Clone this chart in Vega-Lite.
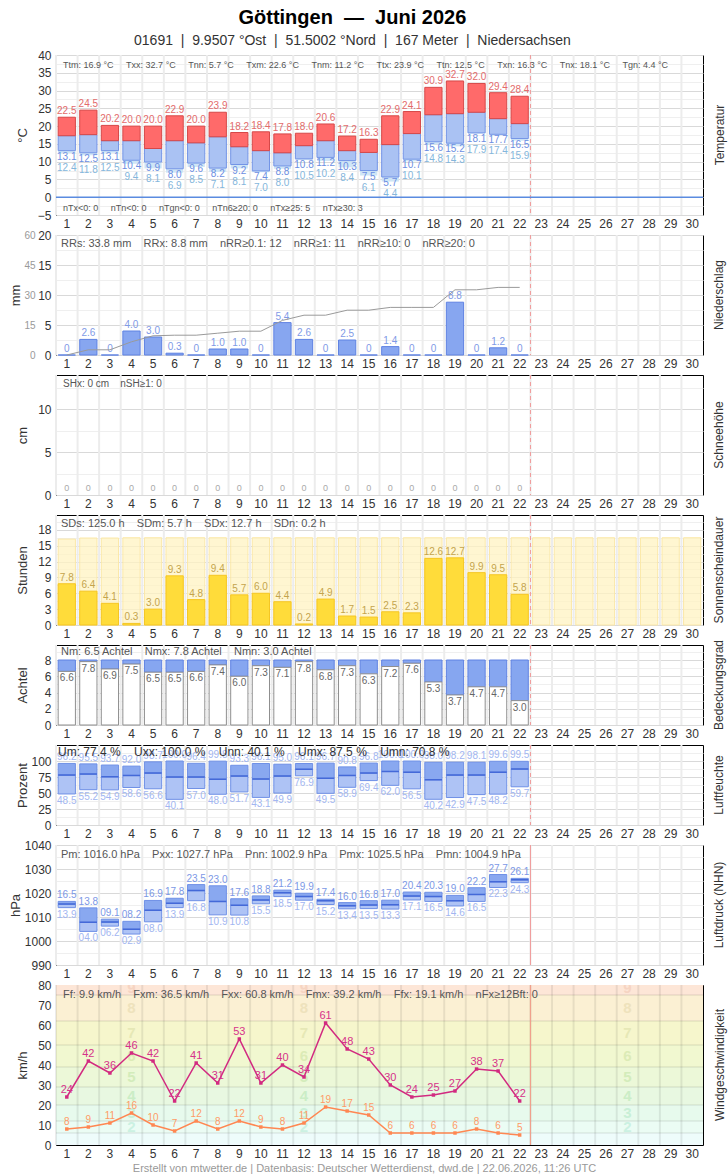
{
  "$schema": "https://vega.github.io/schema/vega-lite/v6.json",
  "background": "white",
  "padding": {"left": 8, "top": 7, "right": 5, "bottom": 5},
  "title": {
    "text": "Göttingen\u00a0 —\u00a0 Juni 2026",
    "subtitle": "01691\u00a0 |\u00a0 9.9507 °Ost\u00a0 |\u00a0 51.5002 °Nord\u00a0 |\u00a0 167 Meter\u00a0 |\u00a0 Niedersachsen",
    "anchor": "middle", "dx": -15, "fontSize": 20, "fontWeight": "bold", "color": "#000",
    "subtitleFontSize": 14, "subtitleColor": "#333", "subtitlePadding": 6, "offset": 1
  },
  "datasets": {
    "days": [{"day":1},{"day":2},{"day":3},{"day":4},{"day":5},{"day":6},{"day":7},{"day":8},{"day":9},{"day":10},{"day":11},{"day":12},{"day":13},{"day":14},{"day":15},{"day":16},{"day":17},{"day":18},{"day":19},{"day":20},{"day":21},{"day":22},{"day":23},{"day":24},{"day":25},{"day":26},{"day":27},{"day":28},{"day":29},{"day":30}],
    "temp": [
      {"day":1,"tx":22.5,"tm":17.3,"tn":13.1,"tgn":12.4},
      {"day":2,"tx":24.5,"tm":17.6,"tn":12.5,"tgn":11.8},
      {"day":3,"tx":20.2,"tm":15.9,"tn":13.1,"tgn":12.5},
      {"day":4,"tx":20.0,"tm":15.9,"tn":10.4,"tgn":9.4},
      {"day":5,"tx":20.0,"tm":13.7,"tn":9.9,"tgn":8.1},
      {"day":6,"tx":22.9,"tm":15.9,"tn":8.0,"tgn":6.9},
      {"day":7,"tx":20.0,"tm":15.3,"tn":9.6,"tgn":8.5},
      {"day":8,"tx":23.9,"tm":17.0,"tn":8.2,"tgn":7.1},
      {"day":9,"tx":18.2,"tm":14.2,"tn":9.2,"tgn":8.1},
      {"day":10,"tx":18.4,"tm":13.1,"tn":7.4,"tgn":7.0},
      {"day":11,"tx":17.8,"tm":12.5,"tn":8.8,"tgn":8.0},
      {"day":12,"tx":18.0,"tm":14.5,"tn":10.8,"tgn":10.5},
      {"day":13,"tx":20.6,"tm":15.9,"tn":11.2,"tgn":10.2},
      {"day":14,"tx":17.2,"tm":13.1,"tn":10.3,"tgn":8.4},
      {"day":15,"tx":16.3,"tm":12.6,"tn":7.5,"tgn":6.1},
      {"day":16,"tx":22.9,"tm":14.8,"tn":5.7,"tgn":4.4},
      {"day":17,"tx":24.1,"tm":17.9,"tn":10.7,"tgn":10.1},
      {"day":18,"tx":30.9,"tm":23.2,"tn":15.6,"tgn":14.8},
      {"day":19,"tx":32.7,"tm":23.5,"tn":15.2,"tgn":14.3},
      {"day":20,"tx":32.0,"tm":23.9,"tn":18.1,"tgn":17.9},
      {"day":21,"tx":29.4,"tm":22.1,"tn":17.7,"tgn":17.4},
      {"day":22,"tx":28.4,"tm":20.7,"tn":16.5,"tgn":15.9}
    ],
    "precip": [
      {"day":1,"rr":0,"cum":0},{"day":2,"rr":2.6,"cum":2.6},{"day":3,"rr":0,"cum":2.6},{"day":4,"rr":4.0,"cum":6.6},
      {"day":5,"rr":3.0,"cum":9.6},{"day":6,"rr":0.3,"cum":9.9},{"day":7,"rr":0,"cum":9.9},{"day":8,"rr":1.0,"cum":10.9},
      {"day":9,"rr":1.0,"cum":11.9},{"day":10,"rr":0,"cum":11.9},{"day":11,"rr":5.4,"cum":17.3},{"day":12,"rr":2.6,"cum":19.9},
      {"day":13,"rr":0,"cum":19.9},{"day":14,"rr":2.5,"cum":22.4},{"day":15,"rr":0,"cum":22.4},{"day":16,"rr":1.4,"cum":23.8},
      {"day":17,"rr":0,"cum":23.8},{"day":18,"rr":0,"cum":23.8},{"day":19,"rr":8.8,"cum":32.6},{"day":20,"rr":0,"cum":32.6},
      {"day":21,"rr":1.2,"cum":33.8},{"day":22,"rr":0,"cum":33.8}
    ],
    "snow": [{"day":1,"sh":0},{"day":2,"sh":0},{"day":3,"sh":0},{"day":4,"sh":0},{"day":5,"sh":0},{"day":6,"sh":0},{"day":7,"sh":0},{"day":8,"sh":0},{"day":9,"sh":0},{"day":10,"sh":0},{"day":11,"sh":0},{"day":12,"sh":0},{"day":13,"sh":0},{"day":14,"sh":0},{"day":15,"sh":0},{"day":16,"sh":0},{"day":17,"sh":0},{"day":18,"sh":0},{"day":19,"sh":0},{"day":20,"sh":0},{"day":21,"sh":0},{"day":22,"sh":0}],
    "sun": [
      {"day":1,"sd":7.8},{"day":2,"sd":6.4},{"day":3,"sd":4.1},{"day":4,"sd":0.3},{"day":5,"sd":3.0},{"day":6,"sd":9.3},
      {"day":7,"sd":4.8},{"day":8,"sd":9.4},{"day":9,"sd":5.7},{"day":10,"sd":6.0},{"day":11,"sd":4.4},{"day":12,"sd":0.2},
      {"day":13,"sd":4.9},{"day":14,"sd":1.7},{"day":15,"sd":1.5},{"day":16,"sd":2.5},{"day":17,"sd":2.3},{"day":18,"sd":12.6},
      {"day":19,"sd":12.7},{"day":20,"sd":9.9},{"day":21,"sd":9.5},{"day":22,"sd":5.8}
    ],
    "daylen": [
      {"day":1,"dl":16.25},{"day":2,"dl":16.45},{"day":3,"dl":16.45},{"day":4,"dl":16.5},{"day":5,"dl":16.5},{"day":6,"dl":16.5},
      {"day":7,"dl":16.5},{"day":8,"dl":16.5},{"day":9,"dl":16.5},{"day":10,"dl":16.5},{"day":11,"dl":16.5},{"day":12,"dl":16.5},
      {"day":13,"dl":16.5},{"day":14,"dl":16.5},{"day":15,"dl":16.5},{"day":16,"dl":16.5},{"day":17,"dl":16.5},{"day":18,"dl":16.5},
      {"day":19,"dl":16.5},{"day":20,"dl":16.5},{"day":21,"dl":16.5},{"day":22,"dl":16.5},{"day":23,"dl":16.5},{"day":24,"dl":16.5},
      {"day":25,"dl":16.5},{"day":26,"dl":16.5},{"day":27,"dl":16.5},{"day":28,"dl":16.5},{"day":29,"dl":16.5},{"day":30,"dl":16.5}
    ],
    "cloud": [
      {"day":1,"n":6.6},{"day":2,"n":7.8},{"day":3,"n":6.9},{"day":4,"n":7.5},{"day":5,"n":6.5},{"day":6,"n":6.5},
      {"day":7,"n":6.6},{"day":8,"n":7.4},{"day":9,"n":6.0},{"day":10,"n":7.3},{"day":11,"n":7.1},{"day":12,"n":7.8},
      {"day":13,"n":6.8},{"day":14,"n":7.3},{"day":15,"n":6.3},{"day":16,"n":7.2},{"day":17,"n":7.6},{"day":18,"n":5.3},
      {"day":19,"n":3.7},{"day":20,"n":4.7},{"day":21,"n":4.7},{"day":22,"n":3.0}
    ],
    "hum": [
      {"day":1,"umax":96.2,"umean":78.0,"umin":48.5},
      {"day":2,"umax":95.5,"umean":79.5,"umin":55.2},
      {"day":3,"umax":93.7,"umean":75.4,"umin":54.9},
      {"day":4,"umax":92.0,"umean":77.5,"umin":58.6},
      {"day":5,"umax":98.7,"umean":81.1,"umin":56.6},
      {"day":6,"umax":100.0,"umean":74.9,"umin":40.1},
      {"day":7,"umax":96.4,"umean":74.9,"umin":57.0},
      {"day":8,"umax":99.8,"umean":71.4,"umin":48.0},
      {"day":9,"umax":93.3,"umean":76.5,"umin":51.7},
      {"day":10,"umax":96.1,"umean":71.9,"umin":43.1},
      {"day":11,"umax":95.0,"umean":76.5,"umin":49.9},
      {"day":12,"umax":96.1,"umean":87.0,"umin":76.9},
      {"day":13,"umax":96.7,"umean":72.9,"umin":49.5},
      {"day":14,"umax":90.8,"umean":77.5,"umin":58.9},
      {"day":15,"umax":96.8,"umean":81.1,"umin":69.4},
      {"day":16,"umax":100.0,"umean":83.6,"umin":62.0},
      {"day":17,"umax":100.0,"umean":82.6,"umin":56.5},
      {"day":18,"umax":98.0,"umean":70.8,"umin":40.2},
      {"day":19,"umax":98.2,"umean":78.0,"umin":42.9},
      {"day":20,"umax":98.1,"umean":78.0,"umin":47.5},
      {"day":21,"umax":99.6,"umean":82.6,"umin":48.2},
      {"day":22,"umax":99.5,"umean":87.5,"umin":59.7}
    ],
    "pres": [
      {"day":1,"pmax":1016.5,"pmean":1015.4,"pmin":1013.9,"maxl":"16.5","minl":"13.9"},
      {"day":2,"pmax":1013.8,"pmean":1007.8,"pmin":1004.0,"maxl":"13.8","minl":"04.0"},
      {"day":3,"pmax":1009.1,"pmean":1007.9,"pmin":1006.2,"maxl":"09.1","minl":"06.2"},
      {"day":4,"pmax":1008.2,"pmean":1004.9,"pmin":1002.9,"maxl":"08.2","minl":"02.9"},
      {"day":5,"pmax":1016.9,"pmean":1012.8,"pmin":1008.0,"maxl":"16.9","minl":"08.0"},
      {"day":6,"pmax":1017.8,"pmean":1015.7,"pmin":1013.9,"maxl":"17.8","minl":"13.9"},
      {"day":7,"pmax":1023.5,"pmean":1021.0,"pmin":1016.8,"maxl":"23.5","minl":"16.8"},
      {"day":8,"pmax":1023.0,"pmean":1016.5,"pmin":1010.9,"maxl":"23.0","minl":"10.9"},
      {"day":9,"pmax":1017.6,"pmean":1014.9,"pmin":1010.8,"maxl":"17.6","minl":"10.8"},
      {"day":10,"pmax":1018.8,"pmean":1017.1,"pmin":1015.5,"maxl":"18.8","minl":"15.5"},
      {"day":11,"pmax":1021.2,"pmean":1020.1,"pmin":1018.5,"maxl":"21.2","minl":"18.5"},
      {"day":12,"pmax":1019.9,"pmean":1018.5,"pmin":1017.0,"maxl":"19.9","minl":"17.0"},
      {"day":13,"pmax":1017.4,"pmean":1016.8,"pmin":1015.2,"maxl":"17.4","minl":"15.2"},
      {"day":14,"pmax":1016.0,"pmean":1014.7,"pmin":1013.4,"maxl":"16.0","minl":"13.4"},
      {"day":15,"pmax":1016.8,"pmean":1015.0,"pmin":1013.5,"maxl":"16.8","minl":"13.5"},
      {"day":16,"pmax":1017.0,"pmean":1015.1,"pmin":1013.3,"maxl":"17.0","minl":"13.3"},
      {"day":17,"pmax":1020.4,"pmean":1018.7,"pmin":1017.1,"maxl":"20.4","minl":"17.1"},
      {"day":18,"pmax":1020.3,"pmean":1018.5,"pmin":1016.5,"maxl":"20.3","minl":"16.5"},
      {"day":19,"pmax":1019.0,"pmean":1016.8,"pmin":1014.6,"maxl":"19.0","minl":"14.6"},
      {"day":20,"pmax":1022.2,"pmean":1019.4,"pmin":1016.5,"maxl":"22.2","minl":"16.5"},
      {"day":21,"pmax":1027.7,"pmean":1024.7,"pmin":1022.3,"maxl":"27.7","minl":"22.3"},
      {"day":22,"pmax":1026.1,"pmean":1025.5,"pmin":1024.3,"maxl":"26.1","minl":"24.3"}
    ],
    "wind": [
      {"day":1,"fx":24,"ff":8},{"day":2,"fx":42,"ff":9},{"day":3,"fx":36,"ff":11},{"day":4,"fx":46,"ff":16},
      {"day":5,"fx":42,"ff":10},{"day":6,"fx":22,"ff":7},{"day":7,"fx":41,"ff":12},{"day":8,"fx":31,"ff":8},
      {"day":9,"fx":53,"ff":12},{"day":10,"fx":31,"ff":9},{"day":11,"fx":40,"ff":8},{"day":12,"fx":34,"ff":11},
      {"day":13,"fx":61,"ff":19},{"day":14,"fx":48,"ff":17},{"day":15,"fx":43,"ff":15},{"day":16,"fx":30,"ff":6},
      {"day":17,"fx":24,"ff":6},{"day":18,"fx":25,"ff":6},{"day":19,"fx":27,"ff":6},{"day":20,"fx":38,"ff":8},
      {"day":21,"fx":37,"ff":6},{"day":22,"fx":22,"ff":5}
    ],
    "bft": [
      {"bft":0,"lo":0,"hi":1,"mid":0.5},{"bft":1,"lo":1,"hi":6,"mid":3.5},{"bft":2,"lo":6,"hi":12,"mid":9},
      {"bft":3,"lo":12,"hi":20,"mid":16},{"bft":4,"lo":20,"hi":29,"mid":24.5},{"bft":5,"lo":29,"hi":39,"mid":34},
      {"bft":6,"lo":39,"hi":50,"mid":44.5},{"bft":7,"lo":50,"hi":62,"mid":56},{"bft":8,"lo":62,"hi":75,"mid":68.5},
      {"bft":9,"lo":75,"hi":89,"mid":78.5}
    ]
  },
  "spacing": 20,
  "bounds": "flush",
  "vconcat": [
    {
      "width": 647, "height": 160,
      "title": {"text": "Temperatur", "orient": "right", "anchor": "middle", "angle": 270, "baseline": "middle", "fontSize": 12, "fontWeight": "normal", "color": "#333", "offset": 4},
      "layer": [
        {"data": {"name": "days"}, "mark": {"type": "rule", "color": "#ececec", "strokeWidth": 2},
         "encoding": {"x": {"field": "day", "type": "ordinal", "bandPosition": 0, "scale": {"domain": [1,2,3,4,5,6,7,8,9,10,11,12,13,14,15,16,17,18,19,20,21,22,23,24,25,26,27,28,29,30], "paddingInner": 0, "paddingOuter": 0}}}},
        {"data": {"values": [{"day": 23}]}, "mark": {"type": "rule", "color": "#f09a9a", "strokeWidth": 1, "strokeDash": [4, 3]},
         "encoding": {"x": {"field": "day", "type": "ordinal", "bandPosition": 0, "scale": {"domain": [1,2,3,4,5,6,7,8,9,10,11,12,13,14,15,16,17,18,19,20,21,22,23,24,25,26,27,28,29,30], "paddingInner": 0, "paddingOuter": 0}}}},
        {"data": {"name": "temp"}, "mark": {"type": "bar", "color": "#cfe5f6", "width": {"band": 0.8}},
         "encoding": {
           "x": {"field": "day", "type": "ordinal", "scale": {"domain": [1,2,3,4,5,6,7,8,9,10,11,12,13,14,15,16,17,18,19,20,21,22,23,24,25,26,27,28,29,30], "paddingInner": 0, "paddingOuter": 0}, "axis": {"title": null, "grid": false}},
           "y": {"field": "tgn", "type": "quantitative", "scale": {"domain": [-5, 40], "nice": false},
                 "axis": {"title": "°C", "format": "d", "tickCount": 100, "values": [-5,-2.5,0,2.5,5,7.5,10,12.5,15,17.5,20,22.5,25,27.5,30,32.5,35,37.5,40],
                          "labelExpr": "datum.value % 5 === 0 ? datum.label : ''",
                          "gridColor": {"condition": {"test": "datum.value % 5 === 0", "value": "#d9d9d9"}, "value": "#efefef"},
                          "titleX": -34, "titleY": 80, "titleAngle": 270, "titleBaseline": "middle", "titleAlign": "center"}},
           "y2": {"field": "tn"}}},
        {"data": {"values": [{}]}, "mark": {"type": "rule", "color": "#5a8be0", "strokeWidth": 1.5},
         "encoding": {"y": {"datum": 0, "type": "quantitative", "scale": {"domain": [-5, 40], "nice": false}}}},
        {"data": {"name": "temp"}, "mark": {"type": "bar", "fill": "#aac2f3", "stroke": "#7394e6", "strokeWidth": 1, "width": {"band": 0.8}},
         "encoding": {
           "x": {"field": "day", "type": "ordinal", "scale": {"domain": [1,2,3,4,5,6,7,8,9,10,11,12,13,14,15,16,17,18,19,20,21,22,23,24,25,26,27,28,29,30], "paddingInner": 0, "paddingOuter": 0}},
           "y": {"field": "tn", "type": "quantitative", "scale": {"domain": [-5, 40], "nice": false}},
           "y2": {"field": "tm"}}},
        {"data": {"name": "temp"}, "mark": {"type": "bar", "fill": "#ff6a6a", "stroke": "#d64848", "strokeWidth": 1, "width": {"band": 0.8}},
         "encoding": {
           "x": {"field": "day", "type": "ordinal", "scale": {"domain": [1,2,3,4,5,6,7,8,9,10,11,12,13,14,15,16,17,18,19,20,21,22,23,24,25,26,27,28,29,30], "paddingInner": 0, "paddingOuter": 0}},
           "y": {"field": "tm", "type": "quantitative", "scale": {"domain": [-5, 40], "nice": false}},
           "y2": {"field": "tx"}}},
        {"data": {"name": "temp"}, "mark": {"type": "text", "baseline": "bottom", "dy": -1, "fontSize": 10, "color": "#e36b6b"},
         "encoding": {
           "x": {"field": "day", "type": "ordinal", "scale": {"domain": [1,2,3,4,5,6,7,8,9,10,11,12,13,14,15,16,17,18,19,20,21,22,23,24,25,26,27,28,29,30], "paddingInner": 0, "paddingOuter": 0}},
           "y": {"field": "tx", "type": "quantitative", "scale": {"domain": [-5, 40], "nice": false}},
           "text": {"field": "tx", "format": ".1f"}}},
        {"data": {"name": "temp"}, "mark": {"type": "text", "baseline": "top", "dy": 1, "fontSize": 10, "color": "#6c8ee2"},
         "encoding": {
           "x": {"field": "day", "type": "ordinal", "scale": {"domain": [1,2,3,4,5,6,7,8,9,10,11,12,13,14,15,16,17,18,19,20,21,22,23,24,25,26,27,28,29,30], "paddingInner": 0, "paddingOuter": 0}},
           "y": {"field": "tn", "type": "quantitative", "scale": {"domain": [-5, 40], "nice": false}},
           "text": {"field": "tn", "format": ".1f"}}},
        {"data": {"name": "temp"}, "mark": {"type": "text", "baseline": "top", "dy": 12, "fontSize": 10, "color": "#84b6dc"},
         "encoding": {
           "x": {"field": "day", "type": "ordinal", "scale": {"domain": [1,2,3,4,5,6,7,8,9,10,11,12,13,14,15,16,17,18,19,20,21,22,23,24,25,26,27,28,29,30], "paddingInner": 0, "paddingOuter": 0}},
           "y": {"field": "tn", "type": "quantitative", "scale": {"domain": [-5, 40], "nice": false}},
           "text": {"field": "tgn", "format": ".1f"}}},
        {"data": {"values": [{"day": 1, "t": "Ttm: 16.9 °C\u00a0\u00a0\u00a0\u00a0\u00a0Txx: 32.7 °C\u00a0\u00a0\u00a0\u00a0\u00a0Tnn: 5.7 °C\u00a0\u00a0\u00a0\u00a0\u00a0Txm: 22.6 °C\u00a0\u00a0\u00a0\u00a0\u00a0Tnm: 11.2 °C\u00a0\u00a0\u00a0\u00a0\u00a0Ttx: 23.9 °C\u00a0\u00a0\u00a0\u00a0\u00a0Ttn: 12.5 °C\u00a0\u00a0\u00a0\u00a0\u00a0Txn: 16.3 °C\u00a0\u00a0\u00a0\u00a0\u00a0Tnx: 18.1 °C\u00a0\u00a0\u00a0\u00a0\u00a0Tgn: 4.4 °C"}]},
         "mark": {"type": "text", "align": "left", "baseline": "middle", "dx": 7, "fontSize": 9, "color": "#555"},
         "encoding": {
           "x": {"field": "day", "type": "ordinal", "bandPosition": 0, "scale": {"domain": [1,2,3,4,5,6,7,8,9,10,11,12,13,14,15,16,17,18,19,20,21,22,23,24,25,26,27,28,29,30], "paddingInner": 0, "paddingOuter": 0}},
           "y": {"datum": 37.2, "type": "quantitative", "scale": {"domain": [-5, 40], "nice": false}},
           "text": {"field": "t"}}},
        {"data": {"values": [{"day": 1, "t": "nTx<0: 0\u00a0\u00a0\u00a0\u00a0\u00a0nTn<0: 0\u00a0\u00a0\u00a0\u00a0\u00a0nTgn<0: 0\u00a0\u00a0\u00a0\u00a0\u00a0nTn6≥20: 0\u00a0\u00a0\u00a0\u00a0\u00a0nTx≥25: 5\u00a0\u00a0\u00a0\u00a0\u00a0nTx≥30: 3"}]},
         "mark": {"type": "text", "align": "left", "baseline": "middle", "dx": 7, "fontSize": 9, "color": "#555"},
         "encoding": {
           "x": {"field": "day", "type": "ordinal", "bandPosition": 0, "scale": {"domain": [1,2,3,4,5,6,7,8,9,10,11,12,13,14,15,16,17,18,19,20,21,22,23,24,25,26,27,28,29,30], "paddingInner": 0, "paddingOuter": 0}},
           "y": {"datum": -3.1, "type": "quantitative", "scale": {"domain": [-5, 40], "nice": false}},
           "text": {"field": "t"}}}
      ]
    },
    {
      "width": 647, "height": 120,
      "title": {"text": "Niederschlag", "orient": "right", "anchor": "middle", "angle": 270, "baseline": "middle", "fontSize": 12, "fontWeight": "normal", "color": "#333", "offset": 4},
      "layer": [
        {"layer": [
          {"data": {"name": "days"}, "mark": {"type": "rule", "color": "#ececec", "strokeWidth": 2},
           "encoding": {"x": {"field": "day", "type": "ordinal", "bandPosition": 0, "scale": {"domain": [1,2,3,4,5,6,7,8,9,10,11,12,13,14,15,16,17,18,19,20,21,22,23,24,25,26,27,28,29,30], "paddingInner": 0, "paddingOuter": 0}}}},
          {"data": {"values": [{"day": 23}]}, "mark": {"type": "rule", "color": "#f09a9a", "strokeWidth": 1, "strokeDash": [4, 3]},
           "encoding": {"x": {"field": "day", "type": "ordinal", "bandPosition": 0, "scale": {"domain": [1,2,3,4,5,6,7,8,9,10,11,12,13,14,15,16,17,18,19,20,21,22,23,24,25,26,27,28,29,30], "paddingInner": 0, "paddingOuter": 0}}}},
          {"data": {"name": "precip"}, "mark": {"type": "bar", "fill": "#87a6f0", "stroke": "#5f82e2", "strokeWidth": 1, "width": {"band": 0.8}},
           "encoding": {
             "x": {"field": "day", "type": "ordinal", "scale": {"domain": [1,2,3,4,5,6,7,8,9,10,11,12,13,14,15,16,17,18,19,20,21,22,23,24,25,26,27,28,29,30], "paddingInner": 0, "paddingOuter": 0}, "axis": {"title": null, "grid": false}},
             "y": {"field": "rr", "type": "quantitative", "scale": {"domain": [0, 20], "nice": false},
                   "axis": {"title": "mm", "format": "d", "tickCount": 100, "values": [0,2.5,5,7.5,10,12.5,15,17.5,20],
                            "labelExpr": "datum.value % 5 === 0 ? datum.label : ''",
                            "gridColor": {"condition": {"test": "datum.value % 5 === 0", "value": "#d9d9d9"}, "value": "#efefef"},
                            "titleX": -41, "titleY": 60, "titleAngle": 270, "titleBaseline": "middle", "titleAlign": "center"}}}},
          {"data": {"name": "precip"}, "mark": {"type": "text", "baseline": "bottom", "dy": -1, "fontSize": 10, "color": "#7f9ae6"},
           "encoding": {
             "x": {"field": "day", "type": "ordinal", "scale": {"domain": [1,2,3,4,5,6,7,8,9,10,11,12,13,14,15,16,17,18,19,20,21,22,23,24,25,26,27,28,29,30], "paddingInner": 0, "paddingOuter": 0}},
             "y": {"field": "rr", "type": "quantitative", "scale": {"domain": [0, 20], "nice": false}},
             "text": {"condition": {"test": "datum.rr === 0", "value": "0"}, "field": "rr", "format": ".1f"}}},
          {"data": {"values": [{"day": 1, "t": "RRs: 33.8 mm\u00a0\u00a0\u00a0\u00a0RRx: 8.8 mm\u00a0\u00a0\u00a0\u00a0nRR≥0.1: 12\u00a0\u00a0\u00a0\u00a0nRR≥1: 11\u00a0\u00a0\u00a0\u00a0nRR≥10: 0\u00a0\u00a0\u00a0\u00a0nRR≥20: 0"}]},
           "mark": {"type": "text", "align": "left", "baseline": "middle", "dx": 5, "fontSize": 11, "color": "#555"},
           "encoding": {
             "x": {"field": "day", "type": "ordinal", "bandPosition": 0, "scale": {"domain": [1,2,3,4,5,6,7,8,9,10,11,12,13,14,15,16,17,18,19,20,21,22,23,24,25,26,27,28,29,30], "paddingInner": 0, "paddingOuter": 0}},
             "y": {"datum": 18.5, "type": "quantitative", "scale": {"domain": [0, 20], "nice": false}},
             "text": {"field": "t"}}}
        ]},
        {"data": {"name": "precip"}, "mark": {"type": "line", "color": "#9a9a9a", "strokeWidth": 1},
         "encoding": {
           "x": {"field": "day", "type": "ordinal", "scale": {"domain": [1,2,3,4,5,6,7,8,9,10,11,12,13,14,15,16,17,18,19,20,21,22,23,24,25,26,27,28,29,30], "paddingInner": 0, "paddingOuter": 0}},
           "y": {"field": "cum", "type": "quantitative", "scale": {"domain": [0, 60], "nice": false},
                 "axis": {"orient": "left", "format": "d", "tickCount": 100, "values": [0,15,30,45,60], "title": null, "grid": false, "labelColor": "#999", "labelFontSize": 10, "offset": 17, "labelPadding": 4}}}}
      ],
      "resolve": {"scale": {"y": "independent"}, "axis": {"y": "independent"}}
    },
    {
      "width": 647, "height": 120,
      "title": {"text": "Schneehöhe", "orient": "right", "anchor": "middle", "angle": 270, "baseline": "middle", "fontSize": 12, "fontWeight": "normal", "color": "#333", "offset": 4},
      "layer": [
        {"data": {"name": "days"}, "mark": {"type": "rule", "color": "#ececec", "strokeWidth": 2},
         "encoding": {"x": {"field": "day", "type": "ordinal", "bandPosition": 0, "scale": {"domain": [1,2,3,4,5,6,7,8,9,10,11,12,13,14,15,16,17,18,19,20,21,22,23,24,25,26,27,28,29,30], "paddingInner": 0, "paddingOuter": 0}}}},
        {"data": {"values": [{"day": 23}]}, "mark": {"type": "rule", "color": "#f09a9a", "strokeWidth": 1, "strokeDash": [4, 3]},
         "encoding": {"x": {"field": "day", "type": "ordinal", "bandPosition": 0, "scale": {"domain": [1,2,3,4,5,6,7,8,9,10,11,12,13,14,15,16,17,18,19,20,21,22,23,24,25,26,27,28,29,30], "paddingInner": 0, "paddingOuter": 0}}}},
        {"data": {"name": "snow"}, "mark": {"type": "text", "baseline": "bottom", "dy": -2, "fontSize": 9, "color": "#aaa"},
         "encoding": {
           "x": {"field": "day", "type": "ordinal", "scale": {"domain": [1,2,3,4,5,6,7,8,9,10,11,12,13,14,15,16,17,18,19,20,21,22,23,24,25,26,27,28,29,30], "paddingInner": 0, "paddingOuter": 0}, "axis": {"title": null, "grid": false}},
           "y": {"field": "sh", "type": "quantitative", "scale": {"domain": [0, 14], "nice": false},
                 "axis": {"title": "cm", "format": "d", "tickCount": 100, "values": [0,2.5,5,7.5,10,12.5],
                          "labelExpr": "datum.value % 5 === 0 ? datum.label : ''",
                          "gridColor": {"condition": {"test": "datum.value % 5 === 0", "value": "#d9d9d9"}, "value": "#efefef"},
                          "titleX": -34, "titleY": 60, "titleAngle": 270, "titleBaseline": "middle", "titleAlign": "center"}},
           "text": {"field": "sh", "format": "d"}}},
        {"data": {"values": [{"day": 1, "t": "SHx: 0 cm\u00a0\u00a0\u00a0\u00a0nSH≥1: 0"}]},
         "mark": {"type": "text", "align": "left", "baseline": "middle", "dx": 7, "fontSize": 10, "color": "#555"},
         "encoding": {
           "x": {"field": "day", "type": "ordinal", "bandPosition": 0, "scale": {"domain": [1,2,3,4,5,6,7,8,9,10,11,12,13,14,15,16,17,18,19,20,21,22,23,24,25,26,27,28,29,30], "paddingInner": 0, "paddingOuter": 0}},
           "y": {"datum": 12.95, "type": "quantitative", "scale": {"domain": [0, 14], "nice": false}},
           "text": {"field": "t"}}}
      ]
    },
    {
      "width": 647, "height": 110,
      "title": {"text": "Sonnenscheindauer", "orient": "right", "anchor": "middle", "angle": 270, "baseline": "middle", "fontSize": 12, "fontWeight": "normal", "color": "#333", "offset": 4},
      "layer": [
        {"data": {"name": "days"}, "mark": {"type": "rule", "color": "#ececec", "strokeWidth": 2},
         "encoding": {"x": {"field": "day", "type": "ordinal", "bandPosition": 0, "scale": {"domain": [1,2,3,4,5,6,7,8,9,10,11,12,13,14,15,16,17,18,19,20,21,22,23,24,25,26,27,28,29,30], "paddingInner": 0, "paddingOuter": 0}}}},
        {"data": {"name": "daylen"}, "mark": {"type": "bar", "fill": "#fff3c2", "fillOpacity": 0.75, "stroke": "#fbe8a8", "strokeWidth": 1, "width": {"band": 0.8}},
         "encoding": {
           "x": {"field": "day", "type": "ordinal", "scale": {"domain": [1,2,3,4,5,6,7,8,9,10,11,12,13,14,15,16,17,18,19,20,21,22,23,24,25,26,27,28,29,30], "paddingInner": 0, "paddingOuter": 0}, "axis": {"title": null, "grid": false}},
           "y": {"field": "dl", "type": "quantitative", "scale": {"domain": [0, 20.8], "nice": false},
                 "axis": {"title": "Stunden", "format": "d", "tickCount": 100, "values": [0,1.5,3,4.5,6,7.5,9,10.5,12,13.5,15,16.5,18,19.5],
                          "labelExpr": "datum.value % 3 === 0 ? datum.label : ''",
                          "gridColor": {"condition": {"test": "datum.value % 3 === 0", "value": "#d9d9d9"}, "value": "#efefef"},
                          "titleX": -34, "titleY": 55, "titleAngle": 270, "titleBaseline": "middle", "titleAlign": "center"}}}},
        {"data": {"values": [{"day": 23}]}, "mark": {"type": "rule", "color": "#f09a9a", "strokeWidth": 1, "strokeDash": [4, 3]},
         "encoding": {"x": {"field": "day", "type": "ordinal", "bandPosition": 0, "scale": {"domain": [1,2,3,4,5,6,7,8,9,10,11,12,13,14,15,16,17,18,19,20,21,22,23,24,25,26,27,28,29,30], "paddingInner": 0, "paddingOuter": 0}}}},
        {"data": {"name": "sun"}, "mark": {"type": "bar", "fill": "#ffdc3a", "stroke": "#f5c623", "strokeWidth": 1, "width": {"band": 0.8}},
         "encoding": {
           "x": {"field": "day", "type": "ordinal", "scale": {"domain": [1,2,3,4,5,6,7,8,9,10,11,12,13,14,15,16,17,18,19,20,21,22,23,24,25,26,27,28,29,30], "paddingInner": 0, "paddingOuter": 0}},
           "y": {"field": "sd", "type": "quantitative", "scale": {"domain": [0, 20.8], "nice": false}}}},
        {"data": {"name": "sun"}, "mark": {"type": "text", "baseline": "bottom", "dy": -1, "fontSize": 10, "color": "#c4a44c"},
         "encoding": {
           "x": {"field": "day", "type": "ordinal", "scale": {"domain": [1,2,3,4,5,6,7,8,9,10,11,12,13,14,15,16,17,18,19,20,21,22,23,24,25,26,27,28,29,30], "paddingInner": 0, "paddingOuter": 0}},
           "y": {"field": "sd", "type": "quantitative", "scale": {"domain": [0, 20.8], "nice": false}},
           "text": {"field": "sd", "format": ".1f"}}},
        {"data": {"values": [{"day": 1, "t": "SDs: 125.0 h\u00a0\u00a0\u00a0\u00a0SDm: 5.7 h\u00a0\u00a0\u00a0\u00a0SDx: 12.7 h\u00a0\u00a0\u00a0\u00a0SDn: 0.2 h"}]},
         "mark": {"type": "text", "align": "left", "baseline": "middle", "dx": 5, "fontSize": 11, "color": "#555"},
         "encoding": {
           "x": {"field": "day", "type": "ordinal", "bandPosition": 0, "scale": {"domain": [1,2,3,4,5,6,7,8,9,10,11,12,13,14,15,16,17,18,19,20,21,22,23,24,25,26,27,28,29,30], "paddingInner": 0, "paddingOuter": 0}},
           "y": {"datum": 19.1, "type": "quantitative", "scale": {"domain": [0, 20.8], "nice": false}},
           "text": {"field": "t"}}}
      ]
    },
    {
      "width": 647, "height": 80,
      "title": {"text": "Bedeckungsgrad", "orient": "right", "anchor": "middle", "angle": 270, "baseline": "middle", "fontSize": 12, "fontWeight": "normal", "color": "#333", "offset": 4},
      "layer": [
        {"data": {"name": "days"}, "mark": {"type": "rule", "color": "#ececec", "strokeWidth": 2},
         "encoding": {"x": {"field": "day", "type": "ordinal", "bandPosition": 0, "scale": {"domain": [1,2,3,4,5,6,7,8,9,10,11,12,13,14,15,16,17,18,19,20,21,22,23,24,25,26,27,28,29,30], "paddingInner": 0, "paddingOuter": 0}}}},
        {"data": {"values": [{"day": 23}]}, "mark": {"type": "rule", "color": "#f09a9a", "strokeWidth": 1, "strokeDash": [4, 3]},
         "encoding": {"x": {"field": "day", "type": "ordinal", "bandPosition": 0, "scale": {"domain": [1,2,3,4,5,6,7,8,9,10,11,12,13,14,15,16,17,18,19,20,21,22,23,24,25,26,27,28,29,30], "paddingInner": 0, "paddingOuter": 0}}}},
        {"data": {"name": "cloud"}, "mark": {"type": "bar", "fill": "#86a6f0", "stroke": "#5f82e2", "strokeWidth": 1, "width": {"band": 0.8}},
         "encoding": {
           "x": {"field": "day", "type": "ordinal", "scale": {"domain": [1,2,3,4,5,6,7,8,9,10,11,12,13,14,15,16,17,18,19,20,21,22,23,24,25,26,27,28,29,30], "paddingInner": 0, "paddingOuter": 0}, "axis": {"title": null, "grid": false}},
           "y": {"field": "n", "type": "quantitative", "scale": {"domain": [0, 9.85], "nice": false},
                 "axis": {"title": "Achtel", "format": "d", "tickCount": 100, "values": [0,1,2,3,4,5,6,7,8,9],
                          "labelExpr": "datum.value % 2 === 0 ? datum.label : ''",
                          "gridColor": {"condition": {"test": "datum.value % 2 === 0", "value": "#d9d9d9"}, "value": "#efefef"},
                          "titleX": -34, "titleY": 40, "titleAngle": 270, "titleBaseline": "middle", "titleAlign": "center"}},
           "y2": {"datum": 8}}},
        {"data": {"name": "cloud"}, "mark": {"type": "bar", "fill": "#ffffff", "stroke": "#8f8f8f", "strokeWidth": 1, "width": {"band": 0.8}},
         "encoding": {
           "x": {"field": "day", "type": "ordinal", "scale": {"domain": [1,2,3,4,5,6,7,8,9,10,11,12,13,14,15,16,17,18,19,20,21,22,23,24,25,26,27,28,29,30], "paddingInner": 0, "paddingOuter": 0}},
           "y": {"field": "n", "type": "quantitative", "scale": {"domain": [0, 9.85], "nice": false}},
           "y2": {"datum": 0}}},
        {"data": {"name": "cloud"}, "mark": {"type": "text", "baseline": "top", "dy": 2, "fontSize": 10, "color": "#666"},
         "encoding": {
           "x": {"field": "day", "type": "ordinal", "scale": {"domain": [1,2,3,4,5,6,7,8,9,10,11,12,13,14,15,16,17,18,19,20,21,22,23,24,25,26,27,28,29,30], "paddingInner": 0, "paddingOuter": 0}},
           "y": {"field": "n", "type": "quantitative", "scale": {"domain": [0, 9.85], "nice": false}},
           "text": {"field": "n", "format": ".1f"}}},
        {"data": {"values": [{"day": 1, "t": "Nm: 6.5 Achtel\u00a0\u00a0\u00a0\u00a0Nmx: 7.8 Achtel\u00a0\u00a0\u00a0\u00a0Nmn: 3.0 Achtel"}]},
         "mark": {"type": "text", "align": "left", "baseline": "middle", "dx": 5, "fontSize": 11, "color": "#555"},
         "encoding": {
           "x": {"field": "day", "type": "ordinal", "bandPosition": 0, "scale": {"domain": [1,2,3,4,5,6,7,8,9,10,11,12,13,14,15,16,17,18,19,20,21,22,23,24,25,26,27,28,29,30], "paddingInner": 0, "paddingOuter": 0}},
           "y": {"datum": 9.0, "type": "quantitative", "scale": {"domain": [0, 9.85], "nice": false}},
           "text": {"field": "t"}}}
      ]
    },
    {
      "width": 647, "height": 80,
      "title": {"text": "Luftfeuchte", "orient": "right", "anchor": "middle", "angle": 270, "baseline": "middle", "fontSize": 12, "fontWeight": "normal", "color": "#333", "offset": 4},
      "layer": [
        {"data": {"name": "days"}, "mark": {"type": "rule", "color": "#ececec", "strokeWidth": 2},
         "encoding": {"x": {"field": "day", "type": "ordinal", "bandPosition": 0, "scale": {"domain": [1,2,3,4,5,6,7,8,9,10,11,12,13,14,15,16,17,18,19,20,21,22,23,24,25,26,27,28,29,30], "paddingInner": 0, "paddingOuter": 0}}}},
        {"data": {"values": [{"day": 23}]}, "mark": {"type": "rule", "color": "#f09a9a", "strokeWidth": 1, "strokeDash": [4, 3]},
         "encoding": {"x": {"field": "day", "type": "ordinal", "bandPosition": 0, "scale": {"domain": [1,2,3,4,5,6,7,8,9,10,11,12,13,14,15,16,17,18,19,20,21,22,23,24,25,26,27,28,29,30], "paddingInner": 0, "paddingOuter": 0}}}},
        {"data": {"name": "hum"}, "mark": {"type": "bar", "fill": "#aec3f5", "stroke": "#6f90e6", "strokeWidth": 1, "width": {"band": 0.8}},
         "encoding": {
           "x": {"field": "day", "type": "ordinal", "scale": {"domain": [1,2,3,4,5,6,7,8,9,10,11,12,13,14,15,16,17,18,19,20,21,22,23,24,25,26,27,28,29,30], "paddingInner": 0, "paddingOuter": 0}, "axis": {"title": null, "grid": false}},
           "y": {"field": "umin", "type": "quantitative", "scale": {"domain": [0, 125], "nice": false},
                 "axis": {"title": "Prozent", "format": "d", "tickCount": 100, "values": [0,12.5,25,37.5,50,62.5,75,87.5,100,112.5],
                          "labelExpr": "datum.value % 25 === 0 ? datum.label : ''",
                          "gridColor": {"condition": {"test": "datum.value % 25 === 0", "value": "#d9d9d9"}, "value": "#efefef"},
                          "titleX": -34, "titleY": 40, "titleAngle": 270, "titleBaseline": "middle", "titleAlign": "center"}},
           "y2": {"field": "umean"}}},
        {"data": {"name": "hum"}, "mark": {"type": "bar", "fill": "#89a8f0", "stroke": "#6f90e6", "strokeWidth": 1, "width": {"band": 0.8}},
         "encoding": {
           "x": {"field": "day", "type": "ordinal", "scale": {"domain": [1,2,3,4,5,6,7,8,9,10,11,12,13,14,15,16,17,18,19,20,21,22,23,24,25,26,27,28,29,30], "paddingInner": 0, "paddingOuter": 0}},
           "y": {"field": "umean", "type": "quantitative", "scale": {"domain": [0, 125], "nice": false}},
           "y2": {"field": "umax"}}},
        {"data": {"name": "hum"}, "mark": {"type": "bar", "fill": "#4469d8", "stroke": "#4469d8", "strokeWidth": 1.5, "width": {"band": 0.8}},
         "encoding": {
           "x": {"field": "day", "type": "ordinal", "scale": {"domain": [1,2,3,4,5,6,7,8,9,10,11,12,13,14,15,16,17,18,19,20,21,22,23,24,25,26,27,28,29,30], "paddingInner": 0, "paddingOuter": 0}},
           "y": {"field": "umean", "type": "quantitative", "scale": {"domain": [0, 125], "nice": false}},
           "y2": {"field": "umean"}}},
        {"data": {"name": "hum"}, "mark": {"type": "text", "baseline": "bottom", "dy": -1, "fontSize": 10, "color": "#a2b6f1"},
         "encoding": {
           "x": {"field": "day", "type": "ordinal", "scale": {"domain": [1,2,3,4,5,6,7,8,9,10,11,12,13,14,15,16,17,18,19,20,21,22,23,24,25,26,27,28,29,30], "paddingInner": 0, "paddingOuter": 0}},
           "y": {"field": "umax", "type": "quantitative", "scale": {"domain": [0, 125], "nice": false}},
           "text": {"field": "umax", "format": ".1f"}}},
        {"data": {"name": "hum"}, "mark": {"type": "text", "baseline": "top", "dy": 2, "fontSize": 10, "color": "#a2b6f1"},
         "encoding": {
           "x": {"field": "day", "type": "ordinal", "scale": {"domain": [1,2,3,4,5,6,7,8,9,10,11,12,13,14,15,16,17,18,19,20,21,22,23,24,25,26,27,28,29,30], "paddingInner": 0, "paddingOuter": 0}},
           "y": {"field": "umin", "type": "quantitative", "scale": {"domain": [0, 125], "nice": false}},
           "text": {"field": "umin", "format": ".1f"}}},
        {"data": {"values": [{"day": 1, "t": "Um: 77.4 %\u00a0\u00a0\u00a0\u00a0Uxx: 100.0 %\u00a0\u00a0\u00a0\u00a0Unn: 40.1 %\u00a0\u00a0\u00a0\u00a0Umx: 87.5 %\u00a0\u00a0\u00a0\u00a0Umn: 70.8 %"}]},
         "mark": {"type": "text", "align": "left", "baseline": "middle", "dx": 2, "fontSize": 12, "color": "#333"},
         "encoding": {
           "x": {"field": "day", "type": "ordinal", "bandPosition": 0, "scale": {"domain": [1,2,3,4,5,6,7,8,9,10,11,12,13,14,15,16,17,18,19,20,21,22,23,24,25,26,27,28,29,30], "paddingInner": 0, "paddingOuter": 0}},
           "y": {"datum": 114, "type": "quantitative", "scale": {"domain": [0, 125], "nice": false}},
           "text": {"field": "t"}}}
      ]
    },
    {
      "width": 647, "height": 120,
      "title": {"text": "Luftdruck (NHN)", "orient": "right", "anchor": "middle", "angle": 270, "baseline": "middle", "fontSize": 12, "fontWeight": "normal", "color": "#333", "offset": 4},
      "layer": [
        {"data": {"name": "days"}, "mark": {"type": "rule", "color": "#ececec", "strokeWidth": 2},
         "encoding": {"x": {"field": "day", "type": "ordinal", "bandPosition": 0, "scale": {"domain": [1,2,3,4,5,6,7,8,9,10,11,12,13,14,15,16,17,18,19,20,21,22,23,24,25,26,27,28,29,30], "paddingInner": 0, "paddingOuter": 0}}}},
        {"data": {"values": [{"day": 23}]}, "mark": {"type": "rule", "color": "#f09a9a", "strokeWidth": 1},
         "encoding": {"x": {"field": "day", "type": "ordinal", "bandPosition": 0, "scale": {"domain": [1,2,3,4,5,6,7,8,9,10,11,12,13,14,15,16,17,18,19,20,21,22,23,24,25,26,27,28,29,30], "paddingInner": 0, "paddingOuter": 0}}}},
        {"data": {"name": "pres"}, "mark": {"type": "bar", "fill": "#aec3f5", "stroke": "#6f90e6", "strokeWidth": 1, "width": {"band": 0.8}},
         "encoding": {
           "x": {"field": "day", "type": "ordinal", "scale": {"domain": [1,2,3,4,5,6,7,8,9,10,11,12,13,14,15,16,17,18,19,20,21,22,23,24,25,26,27,28,29,30], "paddingInner": 0, "paddingOuter": 0}, "axis": {"title": null, "grid": false}},
           "y": {"field": "pmin", "type": "quantitative", "scale": {"domain": [990, 1040], "nice": false, "zero": false},
                 "axis": {"title": "hPa", "format": "d", "tickCount": 100, "values": [990,995,1000,1005,1010,1015,1020,1025,1030,1035,1040],
                          "labelExpr": "datum.value % 10 === 0 ? datum.label : ''",
                          "gridColor": {"condition": {"test": "datum.value % 10 === 0", "value": "#d9d9d9"}, "value": "#efefef"},
                          "titleX": -41, "titleY": 60, "titleAngle": 270, "titleBaseline": "middle", "titleAlign": "center"}},
           "y2": {"field": "pmean"}}},
        {"data": {"name": "pres"}, "mark": {"type": "bar", "fill": "#89a8f0", "stroke": "#6f90e6", "strokeWidth": 1, "width": {"band": 0.8}},
         "encoding": {
           "x": {"field": "day", "type": "ordinal", "scale": {"domain": [1,2,3,4,5,6,7,8,9,10,11,12,13,14,15,16,17,18,19,20,21,22,23,24,25,26,27,28,29,30], "paddingInner": 0, "paddingOuter": 0}},
           "y": {"field": "pmean", "type": "quantitative", "scale": {"domain": [990, 1040], "nice": false, "zero": false}},
           "y2": {"field": "pmax"}}},
        {"data": {"name": "pres"}, "mark": {"type": "bar", "fill": "#4469d8", "stroke": "#4469d8", "strokeWidth": 1.5, "width": {"band": 0.8}},
         "encoding": {
           "x": {"field": "day", "type": "ordinal", "scale": {"domain": [1,2,3,4,5,6,7,8,9,10,11,12,13,14,15,16,17,18,19,20,21,22,23,24,25,26,27,28,29,30], "paddingInner": 0, "paddingOuter": 0}},
           "y": {"field": "pmean", "type": "quantitative", "scale": {"domain": [990, 1040], "nice": false, "zero": false}},
           "y2": {"field": "pmean"}}},
        {"data": {"name": "pres"}, "mark": {"type": "text", "baseline": "bottom", "dy": -1, "fontSize": 10, "color": "#7c98e6"},
         "encoding": {
           "x": {"field": "day", "type": "ordinal", "scale": {"domain": [1,2,3,4,5,6,7,8,9,10,11,12,13,14,15,16,17,18,19,20,21,22,23,24,25,26,27,28,29,30], "paddingInner": 0, "paddingOuter": 0}},
           "y": {"field": "pmax", "type": "quantitative", "scale": {"domain": [990, 1040], "nice": false, "zero": false}},
           "text": {"field": "maxl"}}},
        {"data": {"name": "pres"}, "mark": {"type": "text", "baseline": "top", "dy": 2, "fontSize": 10, "color": "#a2b6f1"},
         "encoding": {
           "x": {"field": "day", "type": "ordinal", "scale": {"domain": [1,2,3,4,5,6,7,8,9,10,11,12,13,14,15,16,17,18,19,20,21,22,23,24,25,26,27,28,29,30], "paddingInner": 0, "paddingOuter": 0}},
           "y": {"field": "pmin", "type": "quantitative", "scale": {"domain": [990, 1040], "nice": false, "zero": false}},
           "text": {"field": "minl"}}},
        {"data": {"values": [{"day": 1, "t": "Pm: 1016.0 hPa\u00a0\u00a0\u00a0\u00a0Pxx: 1027.7 hPa\u00a0\u00a0\u00a0\u00a0Pnn: 1002.9 hPa\u00a0\u00a0\u00a0\u00a0Pmx: 1025.5 hPa\u00a0\u00a0\u00a0\u00a0Pmn: 1004.9 hPa"}]},
         "mark": {"type": "text", "align": "left", "baseline": "middle", "dx": 5, "fontSize": 11, "color": "#555"},
         "encoding": {
           "x": {"field": "day", "type": "ordinal", "bandPosition": 0, "scale": {"domain": [1,2,3,4,5,6,7,8,9,10,11,12,13,14,15,16,17,18,19,20,21,22,23,24,25,26,27,28,29,30], "paddingInner": 0, "paddingOuter": 0}},
           "y": {"datum": 1035.8, "type": "quantitative", "scale": {"domain": [990, 1040], "nice": false, "zero": false}},
           "text": {"field": "t"}}}
      ]
    },
    {
      "width": 647, "height": 160,
      "title": {"text": "Windgeschwindigkeit", "orient": "right", "anchor": "middle", "angle": 270, "baseline": "middle", "fontSize": 12, "fontWeight": "normal", "color": "#333", "offset": 4},
      "layer": [
        {"data": {"name": "bft"}, "mark": {"type": "rect", "clip": true},
         "encoding": {
           "y": {"field": "lo", "type": "quantitative", "scale": {"domain": [0, 80], "nice": false}},
           "y2": {"field": "hi"},
           "color": {"field": "bft", "type": "ordinal", "scale": {"domain": [0,1,2,3,4,5,6,7,8,9], "range": ["#f0fbfd","#eefcfb","#ebfcf4","#e7faed","#e8f8e1","#ecf8d8","#f1f8d0","#f6f6cc","#fbf0d3","#fde6d7"]}, "legend": null}}},
        {"data": {"name": "bft"}, "transform": [{"filter": "datum.bft >= 2"}], "mark": {"type": "rule", "color": "#000", "opacity": 0.12, "strokeWidth": 1},
         "encoding": {"y": {"field": "lo", "type": "quantitative", "scale": {"domain": [0, 80], "nice": false}}}},
        {"data": {"name": "days"}, "mark": {"type": "rule", "color": "#000", "opacity": 0.08, "strokeWidth": 2},
         "encoding": {"x": {"field": "day", "type": "ordinal", "bandPosition": 0, "scale": {"domain": [1,2,3,4,5,6,7,8,9,10,11,12,13,14,15,16,17,18,19,20,21,22,23,24,25,26,27,28,29,30], "paddingInner": 0, "paddingOuter": 0}}}},
        {"data": {"values": [{"day": 23}]}, "mark": {"type": "rule", "color": "#f0a08c", "strokeWidth": 1.2},
         "encoding": {"x": {"field": "day", "type": "ordinal", "bandPosition": 0, "scale": {"domain": [1,2,3,4,5,6,7,8,9,10,11,12,13,14,15,16,17,18,19,20,21,22,23,24,25,26,27,28,29,30], "paddingInner": 0, "paddingOuter": 0}}}},
        {"data": {"name": "bft"}, "transform": [{"filter": "datum.bft >= 2"}], "mark": {"type": "text", "fontSize": 15, "fontWeight": "bold", "clip": true},
         "encoding": {
           "x": {"datum": 4, "type": "ordinal", "scale": {"domain": [1,2,3,4,5,6,7,8,9,10,11,12,13,14,15,16,17,18,19,20,21,22,23,24,25,26,27,28,29,30], "paddingInner": 0, "paddingOuter": 0}},
           "y": {"field": "mid", "type": "quantitative", "scale": {"domain": [0, 80], "nice": false}},
           "text": {"field": "bft"},
           "color": {"field": "bft", "type": "ordinal", "scale": {"domain": [2,3,4,5,6,7,8,9], "range": ["#cbf1e2","#c8efd6","#cbedc6","#d3ecbb","#dcebb6","#e6e8b6","#eee2bc","#f6d4c2"]}, "legend": null}}},
        {"data": {"name": "bft"}, "transform": [{"filter": "datum.bft >= 2"}], "mark": {"type": "text", "fontSize": 15, "fontWeight": "bold", "clip": true},
         "encoding": {
           "x": {"datum": 12, "type": "ordinal", "scale": {"domain": [1,2,3,4,5,6,7,8,9,10,11,12,13,14,15,16,17,18,19,20,21,22,23,24,25,26,27,28,29,30], "paddingInner": 0, "paddingOuter": 0}},
           "y": {"field": "mid", "type": "quantitative", "scale": {"domain": [0, 80], "nice": false}},
           "text": {"field": "bft"},
           "color": {"field": "bft", "type": "ordinal", "scale": {"domain": [2,3,4,5,6,7,8,9], "range": ["#cbf1e2","#c8efd6","#cbedc6","#d3ecbb","#dcebb6","#e6e8b6","#eee2bc","#f6d4c2"]}, "legend": null}}},
        {"data": {"name": "bft"}, "transform": [{"filter": "datum.bft >= 2"}], "mark": {"type": "text", "fontSize": 15, "fontWeight": "bold", "clip": true},
         "encoding": {
           "x": {"datum": 27, "type": "ordinal", "scale": {"domain": [1,2,3,4,5,6,7,8,9,10,11,12,13,14,15,16,17,18,19,20,21,22,23,24,25,26,27,28,29,30], "paddingInner": 0, "paddingOuter": 0}},
           "y": {"field": "mid", "type": "quantitative", "scale": {"domain": [0, 80], "nice": false}},
           "text": {"field": "bft"},
           "color": {"field": "bft", "type": "ordinal", "scale": {"domain": [2,3,4,5,6,7,8,9], "range": ["#cbf1e2","#c8efd6","#cbedc6","#d3ecbb","#dcebb6","#e6e8b6","#eee2bc","#f6d4c2"]}, "legend": null}}},
        {"data": {"name": "wind"}, "mark": {"type": "line", "color": "#d22a80", "strokeWidth": 1.5, "point": {"filled": true, "size": 12, "shape": "square", "color": "#d22a80"}},
         "encoding": {
           "x": {"field": "day", "type": "ordinal", "scale": {"domain": [1,2,3,4,5,6,7,8,9,10,11,12,13,14,15,16,17,18,19,20,21,22,23,24,25,26,27,28,29,30], "paddingInner": 0, "paddingOuter": 0},
                 "axis": {"title": "Erstellt von mtwetter.de | Datenbasis: Deutscher Wetterdienst, dwd.de | 22.06.2026, 11:26 UTC", "grid": false, "titleColor": "#999", "titleFontSize": 11, "titleX": 308, "titleY": 26, "titleAlign": "center", "titleBaseline": "alphabetic"}},
           "y": {"field": "fx", "type": "quantitative", "scale": {"domain": [0, 80], "nice": false},
                 "axis": {"title": "km/h", "format": "d", "tickCount": 100, "values": [0,10,20,30,40,50,60,70,80], "grid": false,
                          "titleX": -34, "titleY": 80, "titleAngle": 270, "titleBaseline": "middle", "titleAlign": "center"}}}},
        {"data": {"name": "wind"}, "mark": {"type": "line", "color": "#ff8752", "strokeWidth": 1.5, "point": {"filled": true, "size": 12, "shape": "square", "color": "#ff8752"}},
         "encoding": {
           "x": {"field": "day", "type": "ordinal", "scale": {"domain": [1,2,3,4,5,6,7,8,9,10,11,12,13,14,15,16,17,18,19,20,21,22,23,24,25,26,27,28,29,30], "paddingInner": 0, "paddingOuter": 0}},
           "y": {"field": "ff", "type": "quantitative", "scale": {"domain": [0, 80], "nice": false}}}},
        {"data": {"name": "wind"}, "mark": {"type": "text", "baseline": "bottom", "dy": -2, "fontSize": 11, "color": "#d6338a"},
         "encoding": {
           "x": {"field": "day", "type": "ordinal", "scale": {"domain": [1,2,3,4,5,6,7,8,9,10,11,12,13,14,15,16,17,18,19,20,21,22,23,24,25,26,27,28,29,30], "paddingInner": 0, "paddingOuter": 0}},
           "y": {"field": "fx", "type": "quantitative", "scale": {"domain": [0, 80], "nice": false}},
           "text": {"field": "fx"}}},
        {"data": {"name": "wind"}, "mark": {"type": "text", "baseline": "bottom", "dy": -2, "fontSize": 10, "color": "#ff9a66"},
         "encoding": {
           "x": {"field": "day", "type": "ordinal", "scale": {"domain": [1,2,3,4,5,6,7,8,9,10,11,12,13,14,15,16,17,18,19,20,21,22,23,24,25,26,27,28,29,30], "paddingInner": 0, "paddingOuter": 0}},
           "y": {"field": "ff", "type": "quantitative", "scale": {"domain": [0, 80], "nice": false}},
           "text": {"field": "ff"}}},
        {"data": {"values": [{"day": 1, "t": "Ff: 9.9 km/h\u00a0\u00a0\u00a0\u00a0Fxm: 36.5 km/h\u00a0\u00a0\u00a0\u00a0Fxx: 60.8 km/h\u00a0\u00a0\u00a0\u00a0Fmx: 39.2 km/h\u00a0\u00a0\u00a0\u00a0Ffx: 19.1 km/h\u00a0\u00a0\u00a0\u00a0nFx≥12Bft: 0"}]},
         "mark": {"type": "text", "align": "left", "baseline": "middle", "dx": 7, "fontSize": 11, "color": "#555"},
         "encoding": {
           "x": {"field": "day", "type": "ordinal", "bandPosition": 0, "scale": {"domain": [1,2,3,4,5,6,7,8,9,10,11,12,13,14,15,16,17,18,19,20,21,22,23,24,25,26,27,28,29,30], "paddingInner": 0, "paddingOuter": 0}},
           "y": {"datum": 75, "type": "quantitative", "scale": {"domain": [0, 80], "nice": false}},
           "text": {"field": "t"}}}
      ],
      "resolve": {"scale": {"color": "independent"}}
    }
  ],
  "config": {
    "font": "Liberation Sans",
    "view": {"stroke": "#000", "strokeWidth": 1},
    "axis": {"labelFont": "Liberation Sans", "labelFontSize": 12, "labelColor": "#333", "titleFont": "Liberation Sans", "titleFontSize": 13, "titleFontWeight": "normal", "titleColor": "#333", "domain": false, "ticks": false, "labelPadding": 5, "labelOverlap": false},
    "axisX": {"labelPadding": 3, "labelAngle": 0},
    "text": {"font": "Liberation Sans"},
    "title": {"font": "Liberation Sans", "subtitleFont": "Liberation Sans"}
  }
}
